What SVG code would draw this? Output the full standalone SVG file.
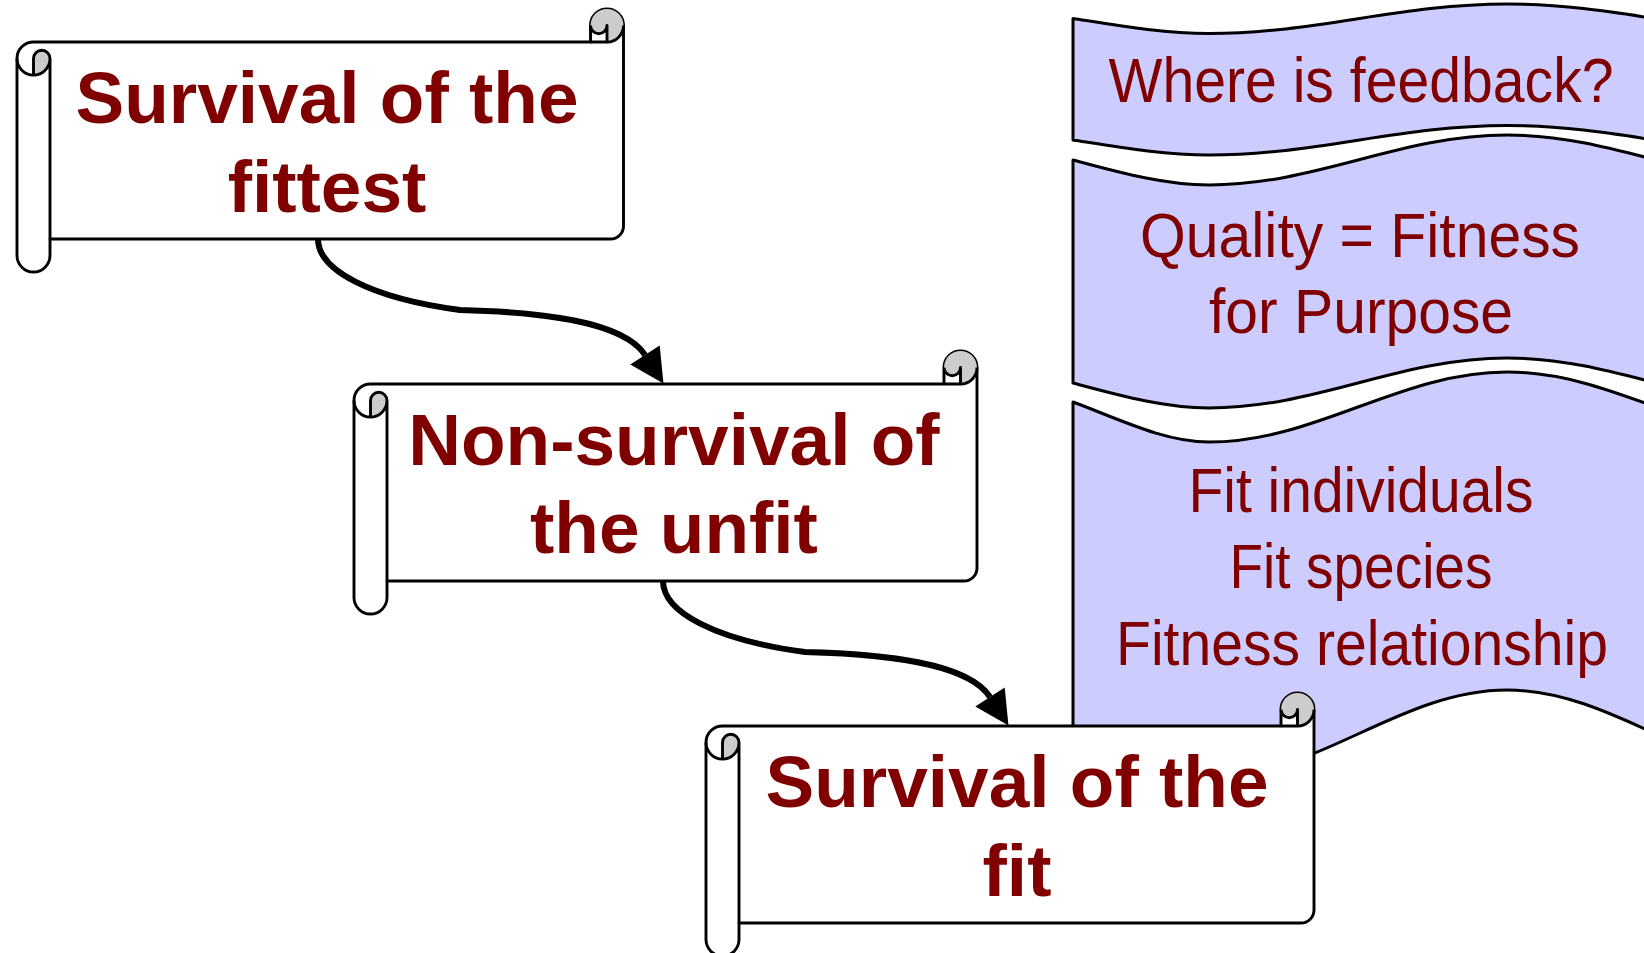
<svg xmlns="http://www.w3.org/2000/svg" xmlns:xlink="http://www.w3.org/1999/xlink" width="1644" height="953" viewBox="0 0 1644 953">
  <style>
    .paper { fill: #FFFFFF; stroke: #000000; stroke-width: 2.9; stroke-linejoin: round; }
    .curl { fill: #CCCCCC; stroke: none; }
    .line { fill: none; stroke: #000000; stroke-width: 2.9; stroke-linejoin: round; }
    .wave { fill: #CCCCFF; stroke: #000000; stroke-width: 3; stroke-linejoin: round; }
    .title { font-family: "Liberation Sans", Arial, sans-serif; font-weight: bold; font-size: 73px; fill: #800000; text-anchor: middle; }
    .note { font-family: "Liberation Sans", Arial, sans-serif; font-size: 63px; fill: #800000; text-anchor: middle; }
    .flow { fill: none; stroke: #000000; stroke-width: 6; stroke-linecap: butt; }
  </style>
  <defs>
    <!-- rolled-up left end of a scroll, local origin at the scroll's top-left -->
    <g id="leftRoll">
      <path class="curl" d="M16.5,66 A16.5,16.5 0 0 0 33,49.5 A8.25,8.25 0 0 0 16.5,49.5 Z"/>
      <path class="line" d="M16.5,66 L16.5,49.5 A8.25,8.25 0 0 1 33,49.5 A16.5,16.5 0 0 1 0,49.5 M33,49.5 L33,230"/>
    </g>
    <!-- rolled-up top-right end, local origin at the scroll's right edge / top -->
    <g id="rightCurl">
      <path class="curl" d="M-16.5,33 A16.5,16.5 0 1 0 -33,16.5 A8.25,8.25 0 0 0 -16.5,16.5 Z"/>
      <path class="line" d="M-33,33 L-16.5,33 A16.5,16.5 0 0 0 0,16.5 M-16.5,33 L-16.5,16.5 A8.25,8.25 0 0 1 -33,16.5"/>
    </g>
    <marker id="head" markerUnits="userSpaceOnUse" markerWidth="40" markerHeight="40" refX="0" refY="17.5" orient="auto" overflow="visible">
      <path d="M0,0 L34,17.5 L0,35 Z" fill="#000000"/>
    </marker>
  </defs>

  <!-- wavy banners on the right -->
  <g id="banner-feedback">
    <path class="wave" d="M1073,18.5 C1118,25.5 1164,33.5 1209,33.5 C1316,33.5 1400,4 1507,4 C1614,4 1698,33.5 1805,33.5 L1805,155 C1698,155 1614,125.5 1507,125.5 C1400,125.5 1316,155 1209,155 C1164,155 1118,147 1073,140 Z"/>
    <text class="note" x="1361" y="102" textLength="505" lengthAdjust="spacingAndGlyphs">Where is feedback?</text>
  </g>
  <g id="banner-quality">
    <path class="wave" d="M1073,160 C1118,172 1164,185 1209,185 C1316,185 1400,135 1507,135 C1614,135 1698,185 1805,185 L1805,408 C1698,408 1614,358 1507,358 C1400,358 1316,408 1209,408 C1164,408 1118,395 1073,383 Z"/>
    <text class="note" x="1360" y="257" textLength="440" lengthAdjust="spacingAndGlyphs">Quality = Fitness</text>
    <text class="note" x="1361" y="333" textLength="304" lengthAdjust="spacingAndGlyphs">for Purpose</text>
  </g>
  <g id="banner-fitness">
    <path class="wave" d="M1073,402 C1118,418.6 1164,442 1209,442 C1316,442 1400,372 1507,372 C1614,372 1698,442 1805,442 L1805,778 C1698,778 1614,690 1507,690 C1400,690 1316,778 1209,778 C1164,778 1118,760 1073,743 Z"/>
    <text class="note" x="1361" y="512" textLength="345" lengthAdjust="spacingAndGlyphs">Fit individuals</text>
    <text class="note" x="1361" y="588" textLength="263" lengthAdjust="spacingAndGlyphs">Fit species</text>
    <text class="note" x="1362" y="665" textLength="492" lengthAdjust="spacingAndGlyphs">Fitness relationship</text>
  </g>

  <!-- scroll 1 -->
  <g id="scroll-fittest" transform="translate(17,9)">
    <path class="paper" d="M0,49.5 A16.5,16.5 0 0 1 16.5,33 L573.5,33 L573.5,16.5 A16.5,16.5 0 0 1 606.5,16.5 L606.5,217 A13,13 0 0 1 593.5,230 L33,230 L33,246.5 A16.5,16.5 0 0 1 0,246.5 Z"/>
    <use xlink:href="#leftRoll"/>
    <use xlink:href="#rightCurl" x="606.5"/>
    <text class="title" x="310" y="114">Survival of the</text>
    <text class="title" x="310" y="203">fittest</text>
  </g>

  <!-- scroll 2 -->
  <g id="scroll-unfit" transform="translate(354,351)">
    <path class="paper" d="M0,49.5 A16.5,16.5 0 0 1 16.5,33 L590,33 L590,16.5 A16.5,16.5 0 0 1 623,16.5 L623,217 A13,13 0 0 1 610,230 L33,230 L33,246.5 A16.5,16.5 0 0 1 0,246.5 Z"/>
    <use xlink:href="#leftRoll"/>
    <use xlink:href="#rightCurl" x="623"/>
    <text class="title" x="320" y="114">Non-survival of</text>
    <text class="title" x="320" y="202">the unfit</text>
  </g>

  <!-- scroll 3 -->
  <g id="scroll-fit" transform="translate(706,693)">
    <path class="paper" d="M0,49.5 A16.5,16.5 0 0 1 16.5,33 L575,33 L575,16.5 A16.5,16.5 0 0 1 608,16.5 L608,217 A13,13 0 0 1 595,230 L33,230 L33,246.5 A16.5,16.5 0 0 1 0,246.5 Z"/>
    <use xlink:href="#leftRoll"/>
    <use xlink:href="#rightCurl" x="608"/>
    <text class="title" x="311" y="114">Survival of the</text>
    <text class="title" x="311" y="203">fit</text>
  </g>

  <!-- connectors -->
  <g id="connectors">
    <path class="flow" marker-end="url(#head)" d="M318,239 C318,270 370,298 460,310 C540,312 623,321 645,355"/>
    <path class="flow" marker-end="url(#head)" transform="translate(345,342)" d="M318,239 C318,270 370,298 460,310 C540,312 623,321 645,355"/>
  </g>
</svg>
